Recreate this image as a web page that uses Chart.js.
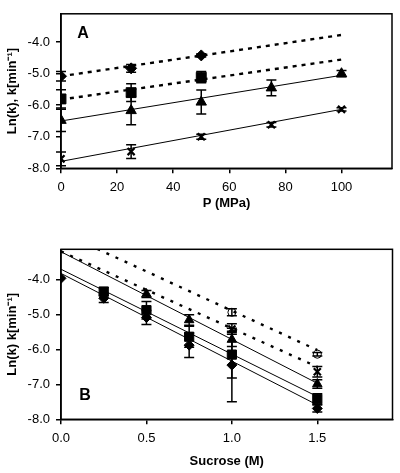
<!DOCTYPE html>
<html><head><meta charset="utf-8">
<script src="https://cdn.jsdelivr.net/npm/chart.js@4.4.0/dist/chart.umd.min.js"></script>
<style>
html,body{margin:0;padding:0;background:#fff;}
#wa{position:absolute;left:0;top:0;width:400px;height:230px;}
#wb{position:absolute;left:0;top:230px;width:400px;height:243px;}
</style></head><body>
<div id="wa"><canvas id="ca"></canvas></div>
<div id="wb"><canvas id="cb"></canvas></div>
<script>
// ---------- Panel A data (x = pressure, MPa) ----------
const pressureTicks = [0, 20, 40, 60, 80, 100];
const lnkTicks = [-8, -7, -6, -5, -4];

const aDiamondP = [0, 25, 50];
const aDiamondY = [-5.08, -4.83, -4.42];
const aDiamondErr = [0.15, 0.12, 0.05];
const aSquareP = [0, 25, 50];
const aSquareY = [-5.8, -5.6, -5.11];
const aSquareErr = [0.29, 0.28, 0.18];
const aTriangleP = [0, 25, 50, 75, 100];
const aTriangleY = [-6.48, -6.17, -5.9, -5.45, -5.0];
const aTriangleErr = [0.35, 0.45, 0.38, 0.25, 0.1];
const aCrossP = [0, 25, 50, 75, 100];
const aCrossY = [-7.7, -7.47, -7.0, -6.62, -6.13];
const aCrossErr = [0.22, 0.22, 0.08, 0.07, 0.05];

const aFitP = [0, 100];
const aDiamondFit = [-5.08, -3.77];
const aSquareFit = [-5.82, -4.55];
const aTriangleFit = [-6.5, -5.05];
const aCrossFit = [-7.78, -6.13];

// ---------- Panel B data (x = sucrose, M) ----------
const sucroseTicks = [0, 0.5, 1.0, 1.5];

const bCircleS = [1.0, 1.5];
const bCircleY = [-4.94, -6.14];
const bCircleErr = [0.1, 0.05];
const bCrossS = [1.0, 1.5];
const bCrossY = [-5.42, -6.64];
const bCrossErr = [0.15, 0.15];
const bTriangleS = [0.5, 0.75, 1.0, 1.5];
const bTriangleY = [-4.42, -5.16, -5.72, -6.99];
const bTriangleErr = [0.1, 0.15, 0.2, 0.12];
const bSquareS = [0.25, 0.5, 0.75, 1.0, 1.5];
const bSquareY = [-4.35, -4.88, -5.64, -6.15, -7.42];
const bSquareErr = [0.12, 0.25, 0.3, 0.67, 0.15];
const bDiamondS = [0, 0.25, 0.5, 0.75, 1.0, 1.5];
const bDiamondY = [-3.97, -4.54, -5.09, -5.88, -6.45, -7.69];
const bDiamondErr = [0, 0.12, 0.2, 0.35, 1.05, 0.1];

const bFitS = [0, 1.5];
const bCircleFit = [-2.65, -6.02];
const bCrossFit = [-3.2, -6.5];
const bTriangleFit = [-3.21, -6.97];
const bSquareFit = [-3.71, -7.35];
const bDiamondFit = [-3.83, -7.59];

// ---------- helpers ----------
const pts = (xs, ys) => xs.map((x, i) => ({x: x, y: ys[i]}));
const FONT = "'Liberation Sans', Arial, Helvetica, sans-serif";
Chart.defaults.font.family = FONT;
Chart.defaults.font.size = 13;
Chart.defaults.color = '#000';

function markerSet(xs, ys, errs, style, radius, fill) {
  return {type: 'scatter', data: pts(xs, ys), errors: errs, showLine: false,
    pointStyle: style, pointRadius: radius, pointHoverRadius: radius,
    backgroundColor: fill || '#000', borderColor: '#000', pointBorderWidth: style === 'crossRot' ? 2.2 : 1};
}
function fitSet(xs, ys, dotted, dash) {
  return {type: 'scatter', data: pts(xs, ys), showLine: true, pointRadius: 0,
    borderColor: '#000', borderWidth: dotted ? 2.4 : 1, borderDash: dotted ? dash : [], fill: false};
}

const errorBars = {
  id: 'errorBars',
  afterDatasetsDraw(chart) {
    const ctx = chart.ctx, xs = chart.scales.x, ys = chart.scales.y;
    ctx.save();
    ctx.strokeStyle = '#000';
    ctx.lineWidth = 1.5;
    chart.data.datasets.forEach(ds => {
      if (!ds.errors) return;
      ds.data.forEach((p, j) => {
        const e = ds.errors[j];
        if (!e) return;
        const x = xs.getPixelForValue(p.x);
        const y1 = ys.getPixelForValue(p.y + e), y2 = ys.getPixelForValue(p.y - e);
        ctx.beginPath();
        ctx.moveTo(x, y1); ctx.lineTo(x, y2);
        ctx.moveTo(x - 5, y1); ctx.lineTo(x + 5, y1);
        ctx.moveTo(x - 5, y2); ctx.lineTo(x + 5, y2);
        ctx.stroke();
      });
    });
    ctx.restore();
  }
};
const frame = {
  id: 'frame',
  afterDraw(chart, args, opts) {
    const a = chart.chartArea, ctx = chart.ctx;
    ctx.save();
    ctx.strokeStyle = '#000';
    ctx.lineWidth = 1.5;
    ctx.strokeRect(a.left, a.top, a.right - a.left, a.bottom - a.top);
    ctx.font = 'bold 16px ' + FONT;
    ctx.fillStyle = '#000';
    ctx.textAlign = 'center';
    ctx.textBaseline = 'middle';
    ctx.fillText(opts.letter, a.left + opts.dx, opts.fromBottom ? a.bottom - opts.dy : a.top + opts.dy);
    ctx.restore();
  }
};

function axisCommon() {
  return {
    grid: {display: true, drawOnChartArea: false, drawTicks: true, tickLength: 5, color: '#000', lineWidth: 1.5},
    border: {display: true, color: '#000', width: 1.5}
  };
}

function makeChart(id, cfg) {
  return new Chart(document.getElementById(id), {
    type: 'scatter',
    data: {datasets: cfg.datasets},
    options: {
      responsive: true, maintainAspectRatio: false, animation: false,
      layout: {padding: cfg.padding},
      plugins: {legend: {display: false}, tooltip: {enabled: false}, frame: cfg.frame},
      scales: {
        x: Object.assign(axisCommon(), {
          type: 'linear', min: cfg.xMin, max: cfg.xMax,
          afterBuildTicks: s => { s.ticks = cfg.xTicks.map(v => ({value: v})); },
          afterFit: s => { s.height = cfg.xHeight; },
          ticks: {padding: 6, font: {size: 13}, callback: cfg.xFmt},
          title: {display: true, text: cfg.xTitle, font: {size: 13, weight: 'bold'}, padding: {top: 0, bottom: cfg.xTitlePad}}
        }),
        y: Object.assign(axisCommon(), {
          type: 'linear', min: cfg.yMin, max: cfg.yMax,
          afterBuildTicks: s => { s.ticks = lnkTicks.map(v => ({value: v})); },
          afterFit: s => { s.width = 61; },
          ticks: {padding: 6, font: {size: 13}, callback: v => Number(v).toFixed(1)},
          title: {display: true, text: cfg.yTitle, font: {size: 13, weight: 'bold'}, padding: {top: 5, bottom: 0}}
        })
      }
    },
    plugins: [errorBars, frame]
  });
}

makeChart('ca', {
  datasets: [
    fitSet(aFitP, aDiamondFit, true, [4, 5]),
    fitSet(aFitP, aSquareFit, true, [4, 5]),
    fitSet(aFitP, aTriangleFit, false),
    fitSet(aFitP, aCrossFit, false),
    markerSet(aDiamondP, aDiamondY, aDiamondErr, 'rectRot', 5.5),
    markerSet(aSquareP, aSquareY, aSquareErr, 'rect', 7),
    markerSet(aTriangleP, aTriangleY, aTriangleErr, 'triangle', 6),
    markerSet(aCrossP, aCrossY, aCrossErr, 'crossRot', 5)
  ],
  padding: {top: 5, right: 7, left: 0, bottom: 0},
  xMin: 0, xMax: 118, xTicks: pressureTicks, xFmt: v => String(v),
  xHeight: 61.7, xTitle: 'P (MPa)', xTitlePad: 19,
  yMin: -8, yMax: -3.1, yTitle: 'Ln(k), k[min\u207B\u00B9]',
  frame: {letter: 'A', dx: 22, dy: 20, fromBottom: false}
});

makeChart('cb', {
  datasets: [
    fitSet(bFitS, bCircleFit, true, [3, 7]),
    fitSet(bFitS, bCrossFit, true, [3, 7]),
    fitSet(bFitS, bTriangleFit, false),
    fitSet(bFitS, bSquareFit, false),
    fitSet(bFitS, bDiamondFit, false),
    markerSet(bCircleS, bCircleY, bCircleErr, 'circle', 4, '#fff'),
    markerSet(bCrossS, bCrossY, bCrossErr, 'crossRot', 5),
    markerSet(bTriangleS, bTriangleY, bTriangleErr, 'triangle', 5.5),
    markerSet(bSquareS, bSquareY, bSquareErr, 'rect', 6.5),
    markerSet(bDiamondS, bDiamondY, bDiamondErr, 'rectRot', 5)
  ],
  padding: {top: 19.3, right: 6, left: 0, bottom: 0},
  xMin: 0, xMax: 1.94, xTicks: sucroseTicks, xFmt: v => Number(v).toFixed(1),
  xHeight: 53.7, xTitle: 'Sucrose (M)', xTitlePad: 3.5,
  yMin: -8, yMax: -3.14, yTitle: 'Ln(k) k[min\u207B\u00B9]',
  frame: {letter: 'B', dx: 24, dy: 24, fromBottom: true}
});
</script>
</body></html>
